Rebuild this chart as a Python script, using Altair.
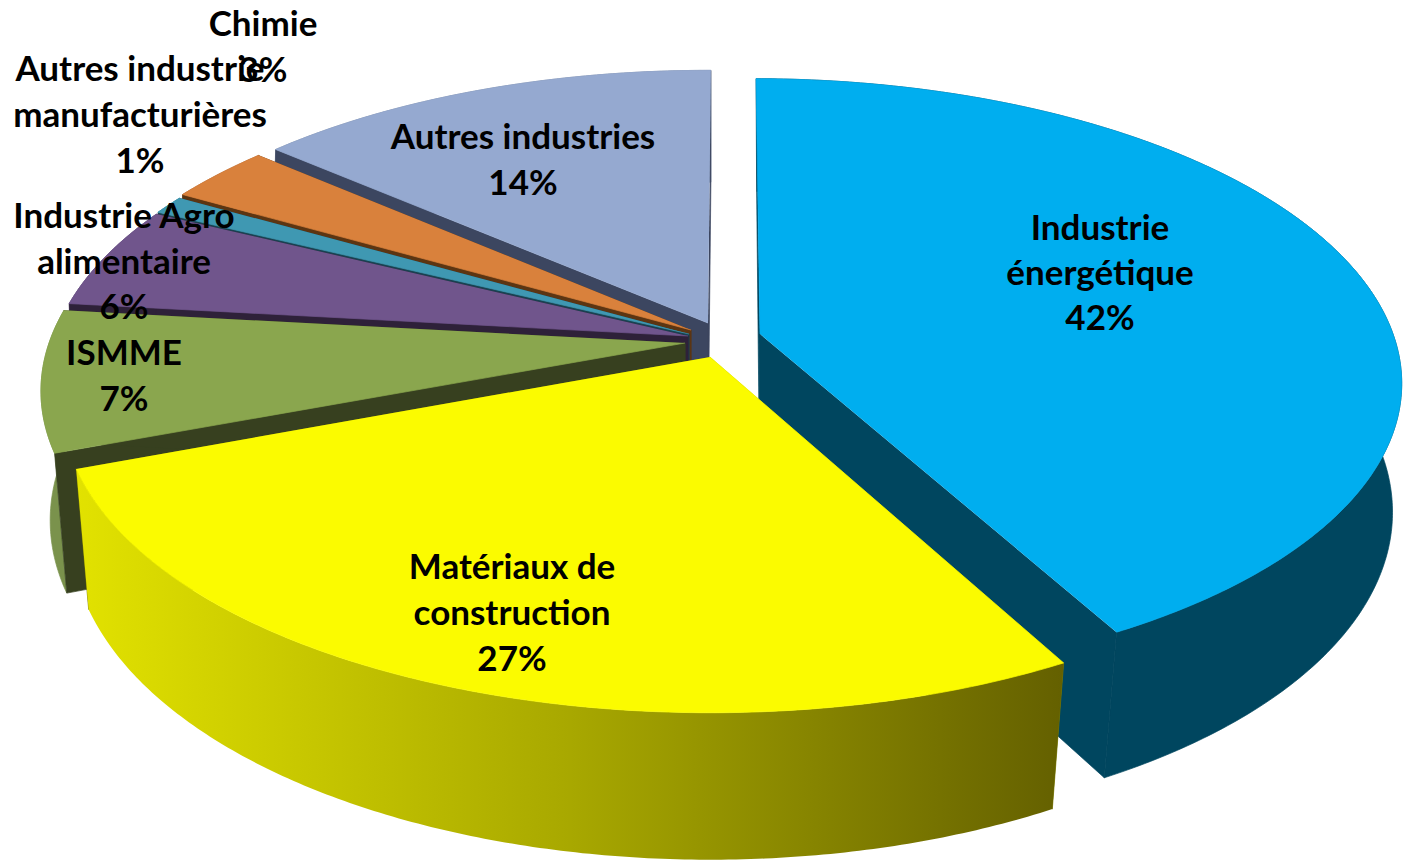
import math
import altair as alt
import pandas as pd

# ---- chart values ----
categories = ["Industrie énergétique", "Matériaux de construction", "ISMME",
              "Industrie Agro alimentaire", "Autres industries manufacturières",
              "Chimie", "Autres industries"]
shares = [42.0, 27.2, 7.5, 5.5, 1.0, 3.1, 13.7]
label_lines = [
    ["Industrie", "énergétique", "42%"],
    ["Matériaux de", "construction", "27%"],
    ["ISMME", "7%"],
    ["Industrie Agro", "alimentaire", "6%"],
    ["Autres industrie", "manufacturières", "1%"],
    ["Chimie", "3%"],
    ["Autres industries", "14%"],
]

# ---- styling / layout ----
top_colors = ["#00aeef", "#fbfb00", "#8aa64e", "#70558c", "#3f98b2", "#d9813c", "#95a9d0"]
face_colors = ["#00465f", "#7c7c00", "#37401f", "#2e2139", "#1a4150", "#5c3512", "#3c4660"]
wall_colors = ["#00465f", "#7c7c00", "#7a924c", "#584270", "#317a90", "#a86030", "#74849f"]
apex_px = [(760, 329), (710, 352), (685, 338), (688, 331), (689, 329), (691, 325), (708, 318)]
label_pos = [(1100, 224, 45), (512, 563, 46), (124, 349, 46), (124, 212, 45.5),
             (140, 65, 46), (263, 20, 46), (523, 133, 46)]
paint_order = [6, 5, 4, 3, 2, 0, 1]
CX, CY, A, B, T, H = 708, 332, 634, 295, 0.152, 134
ROT = math.radians(0.3)


def to_disk(px, py):
    yy = py - CY
    Y = yy / (B + T * yy)
    return (px - CX) * (1 - T * Y) / A, Y


def project(X, Y, low=False):
    den = 1 - T * Y
    s = (0.99 - 0.023 * Y) if low else 1
    return (CX + s * A * X / den, CY + s * B * Y / den + (H / den if low else 0))


def arc(i, low=False):
    start = ROT + sum(shares[:i]) / sum(shares) * 2 * math.pi
    end = ROT + sum(shares[:i + 1]) / sum(shares) * 2 * math.pi
    n = max(4, int((end - start) / 0.01))
    X0, Y0 = to_disk(*apex_px[i])
    return [project(X0 + math.sin(start + (end - start) * k / n),
                    Y0 - math.cos(start + (end - start) * k / n), low) for k in range(n + 1)]


def apex(i, low=False):
    return project(*to_disk(*apex_px[i]), low)


rows, wall_rows, yellow_top = [], [], []
pid = 0


def add(points, color, target):
    global pid
    pid += 1
    for k, (x, y) in enumerate(points):
        target.append({"poly": pid, "seq": k, "x": x, "y": y, "color": color})


for i in paint_order:
    up, lo = arc(i), arc(i, True)
    if i != 1:
        add(up + lo[::-1], wall_colors[i], rows)
    add([apex(i), apex(i, True), lo[0], up[0]], face_colors[i], rows)
    add([apex(i), apex(i, True), lo[-1], up[-1]], face_colors[i], rows)
    if i != 1:
        add([apex(i)] + up, top_colors[i], rows)
    else:
        add(up + lo[::-1], "gradient", wall_rows)
        add([apex(i)] + up, top_colors[i], yellow_top)

text_rows = []
for lines, (lx, ly, step) in zip(label_lines, label_pos):
    for k, t in enumerate(lines):
        text_rows.append({"x": lx, "y": ly + k * step, "t": t})

W, HT = 1396, 851
xs = alt.Scale(domain=[8, 8 + W], nice=False, zero=False)
ys = alt.Scale(domain=[8 + HT, 8], nice=False, zero=False)


def enc(ch_fill=True):
    e = dict(
        x=alt.X("x:Q", scale=xs, axis=None),
        y=alt.Y("y:Q", scale=ys, axis=None),
        order=alt.Order("seq:Q"),
        detail="poly:N",
    )
    if ch_fill:
        e["fill"] = alt.Fill("color:N", scale=None)
        e["stroke"] = alt.Stroke("color:N", scale=None)
    return e


flat = alt.Chart(pd.DataFrame(rows)).mark_line(strokeWidth=0.7).encode(**enc())
grad = alt.Chart(pd.DataFrame(wall_rows)).mark_line(
    strokeWidth=0,
    fill=alt.Gradient(gradient="linear", x1=0, y1=0.5, x2=1, y2=0.5, stops=[
        alt.GradientStop(color="#e2e200", offset=0),
        alt.GradientStop(color="#a8a800", offset=0.5),
        alt.GradientStop(color="#646000", offset=1),
    ]),
).encode(**enc(False))
ytop = alt.Chart(pd.DataFrame(yellow_top)).mark_line(strokeWidth=0.7).encode(**enc())
text = alt.Chart(pd.DataFrame(text_rows)).mark_text(
    font="Lato", fontWeight="bold", fontSize=35, color="#000000", baseline="middle", align="center"
).encode(x=alt.X("x:Q", scale=xs, axis=None), y=alt.Y("y:Q", scale=ys, axis=None), text="t:N")

chart = alt.layer(flat, grad, ytop, text).properties(
    width=W, height=HT, padding=0, background="#ffffff"
).configure_view(stroke=None)
chart.save("out.html", embed_options={"renderer": "svg", "actions": False})
